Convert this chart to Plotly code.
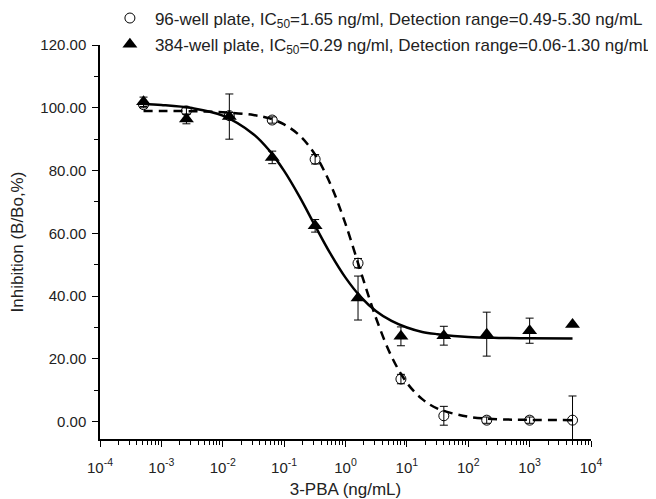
import plotly.graph_objects as go

# concentraciones (ng/mL), dilucion 1:5
conc = [0.000512, 0.00256, 0.0128, 0.064, 0.32, 1.6, 8, 40, 200, 1000, 5000]

# 96-well plate (circulos abiertos)
y96 = [101.0, 99.0, 97.5, 96.1, 83.6, 50.5, 13.6, 1.9, 0.5, 0.5, 0.5]
err96 = [1.0, 1.0, 1.0, 1.0, 1.5, 1.5, 1.5, 3.0, 1.0, 1.0, 7.7]

# 384-well plate (triangulos)
y384 = [101.9, 96.4, 97.2, 84.2, 62.4, 39.4, 27.2, 27.4, 27.9, 29.0, 31.0]
err384 = [1.5, 1.5, 7.2, 2.0, 2.0, 7.0, 3.0, 3.0, 7.0, 4.0, 0.0]

# curvas ajustadas
curva_x = [0.000512, 0.001, 0.00316, 0.01, 0.0316, 0.0562, 0.1, 0.178, 0.316,
           0.562, 1, 1.78, 3.16, 5.62, 10, 17.8, 31.6, 100, 316, 1000, 5000]
curva96 = [99.0, 99.0, 98.9, 98.6, 97.7, 96.7, 94.7, 91.2, 85.2,
           75.9, 63.0, 47.7, 32.9, 20.8, 12.4, 7.2, 4.2, 1.6, 0.8, 0.6, 0.5]
curva384 = [101.2, 100.9, 99.9, 97.5, 91.6, 86.6, 79.9, 71.7, 62.6,
            53.7, 45.9, 39.7, 35.2, 32.1, 30.0, 28.6, 27.9, 27.0, 26.7, 26.6, 26.5]

etiqueta96 = "96-well plate, IC<sub>50</sub>=1.65 ng/ml, Detection range=0.49-5.30 ng/mL"
etiqueta384 = "384-well plate, IC<sub>50</sub>=0.29 ng/ml, Detection range=0.06-1.30 ng/mL"

x_ticks = [1e-4, 1e-3, 1e-2, 1e-1, 1, 10, 100, 1000, 10000]
x_ticktext = ["10<sup>-4</sup>", "10<sup>-3</sup>", "10<sup>-2</sup>", "10<sup>-1</sup>",
              "10<sup>0</sup>", "10<sup>1</sup>", "10<sup>2</sup>", "10<sup>3</sup>", "10<sup>4</sup>"]

fig = go.Figure()

# lineas de ajuste
fig.add_trace(go.Scatter(
    x=curva_x, y=curva96, mode="lines", line_shape="spline",
    line=dict(color="black", width=2.5, dash="9px,6px"), showlegend=False, hoverinfo="skip"
))
fig.add_trace(go.Scatter(
    x=curva_x, y=curva384, mode="lines", line_shape="spline",
    line=dict(color="black", width=2.5), showlegend=False, hoverinfo="skip"
))

# puntos con barras de error
fig.add_trace(go.Scatter(
    x=conc, y=y96, mode="markers", name=etiqueta96, legendgroup="a",
    marker=dict(symbol="circle-open", size=10, color="black", line=dict(width=1)),
    error_y=dict(type="data", array=err96, color="black", thickness=1, width=4)
))
fig.add_trace(go.Scatter(
    x=conc, y=y384, mode="markers", name=etiqueta384, legendgroup="b",
    marker=dict(symbol="triangle-up", size=13, color="black"),
    error_y=dict(type="data", array=err384, color="black", thickness=1, width=4)
))

# la pagina tiene 8px de margen en body, se descuenta del tamaño
fig.update_layout(
    width=648, height=491,
    paper_bgcolor="white", plot_bgcolor="white",
    font=dict(family="Liberation Sans, Arial", size=15, color="#222"),
    margin=dict(l=92, r=65, t=37, b=60, autoexpand=False),
    legend=dict(x=0.01, y=1.113, xanchor="left", yanchor="top",
                bgcolor="rgba(0,0,0,0)", tracegroupgap=1, traceorder="grouped",
                itemwidth=40, font=dict(size=17)),
    xaxis=dict(
        type="log", range=[-4, 4],
        tickmode="array", tickvals=x_ticks, ticktext=x_ticktext,
        showline=True, linecolor="black", linewidth=1.5,
        ticks="outside", ticklen=6, tickcolor="black", tickwidth=1.2,
        ticklabelstandoff=8,
        minor=dict(ticks="outside", ticklen=4, tickcolor="black", dtick="D1"),
        showgrid=False, zeroline=False,
        title=dict(text="3-PBA (ng/mL)", font=dict(size=17), standoff=8)
    ),
    yaxis=dict(
        range=[-5.5, 120], dtick=20, tickformat=".2f",
        showline=True, linecolor="black", linewidth=1.5,
        ticks="outside", ticklen=6, tickcolor="black", tickwidth=1.2,
        ticklabelstandoff=3,
        minor=dict(ticks="outside", ticklen=4, tickcolor="black", dtick=10),
        showgrid=False, zeroline=False,
        title=dict(text="Inhibition (B/Bo,%)", font=dict(size=17), standoff=12)
    )
)

fig.write_html("out.html")
